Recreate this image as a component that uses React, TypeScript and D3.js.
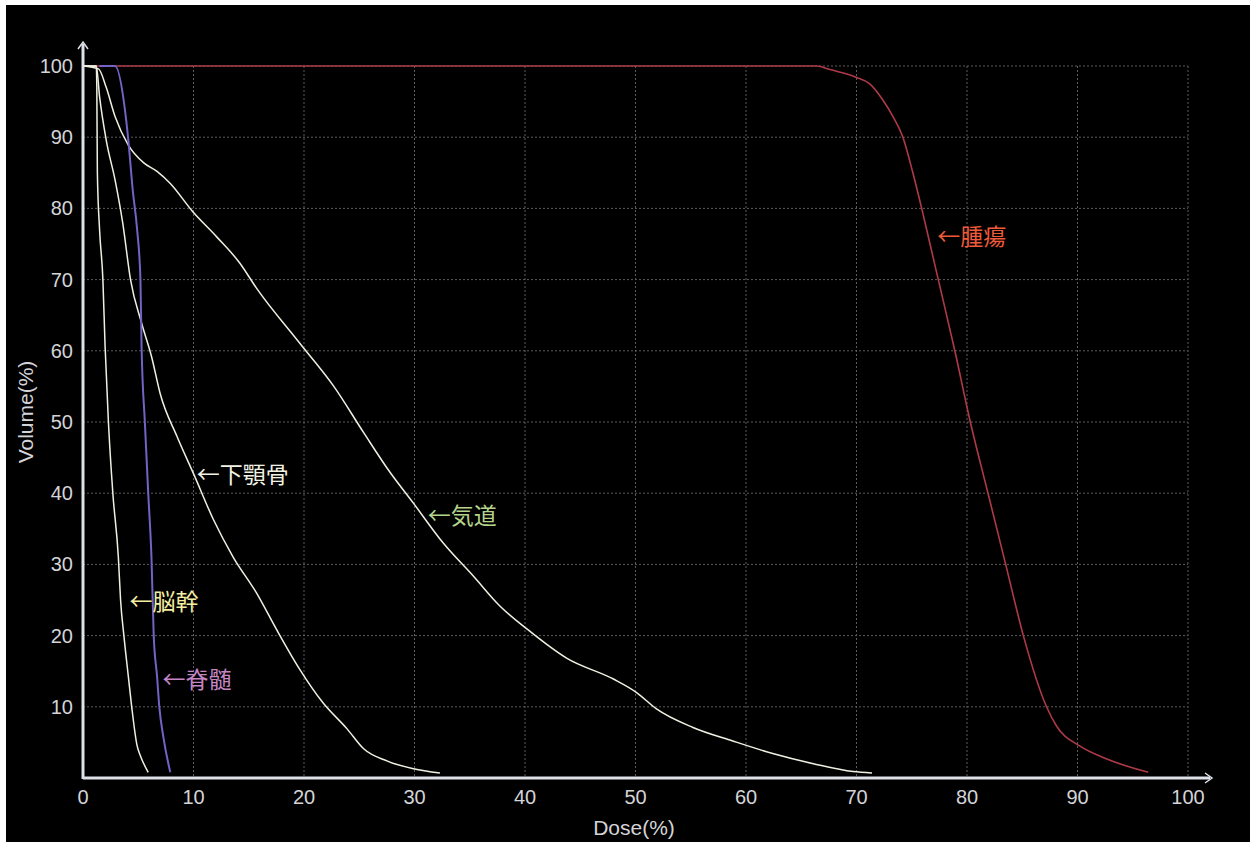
import { useEffect, useRef } from "react";
import * as d3 from "d3";

// dose (%) / volume (%) pairs
const tumorDose = [0, 66.4, 67.6, 70.0, 71.2, 72.4, 73.3, 74.2, 75.1, 75.9, 77.1, 78.9, 80.3, 81.9, 83.5, 85.1, 87.2, 88.1, 90.2, 92.6, 96.4];
const tumorVol = [100, 100, 99.5, 98.4, 97.5, 95.2, 92.9, 90, 85, 80, 72, 60, 50, 40, 30, 20, 10, 7.3, 4.5, 2.7, 0.8];

const airwayDose = [0, 1.4, 2.1, 2.9, 4.1, 5.5, 6.7, 7.9, 9.9, 12.1, 14.2, 15.7, 19.6, 22.7, 25.4, 27.8, 29.9, 32.6, 35.3, 37.7, 40.2, 43.8, 48.0, 50.1, 51.9, 55.2, 58.8, 62.5, 66.1, 69.7, 71.4];
const airwayVol = [100, 99.6, 97, 92.9, 88.9, 86.4, 85.2, 83.5, 79.6, 76, 72.3, 68.8, 61.1, 55, 48.5, 42.9, 38.6, 33, 28.4, 24.2, 20.9, 16.8, 13.9, 12, 9.7, 7.1, 5.2, 3.4, 2.0, 0.9, 0.7];

const mandibleDose = [0, 1.2, 1.5, 2.1, 2.9, 3.6, 4.3, 5.3, 6.2, 7.0, 8.5, 10.1, 11.8, 13.6, 15.7, 17.5, 19.6, 21.7, 23.9, 25.4, 27.5, 29.9, 32.3];
const mandibleVol = [100, 100, 95.7, 89.6, 84, 77.9, 70, 63.9, 59.2, 53.9, 48, 42.4, 36.3, 31, 26, 20.9, 15.3, 10.6, 6.9, 4.1, 2.4, 1.3, 0.7];

const brainstemDose = [0, 1.2, 1.25, 1.3, 1.5, 1.8, 2.0, 2.3, 2.7, 3.2, 3.4, 3.7, 4.1, 4.4, 4.9, 5.2, 5.9];
const brainstemVol = [100, 100, 97, 85, 77, 70, 60.6, 50, 40, 31, 25, 20, 14.3, 10.1, 4.5, 3.1, 0.8];

const cordDose = [1.5, 2.9, 3.8, 4.1, 4.5, 4.9, 5.2, 5.3, 5.6, 5.9, 6.2, 6.4, 6.7, 6.9, 7.3, 7.9];
const cordVol = [100, 100, 93.8, 89.6, 82.6, 77, 70, 60.6, 49.9, 40.1, 30.8, 20, 14.3, 10.1, 5.5, 0.8];

const ticks = [0, 10, 20, 30, 40, 50, 60, 70, 80, 90, 100];
const yTicks = [10, 20, 30, 40, 50, 60, 70, 80, 90, 100];

const labels = [
  { text: "←腫瘍", dose: 77.3, vol: 76, color: "#ee5a3a" },
  { text: "←下顎骨", dose: 10.3, vol: 42.6, color: "#f2f2e4" },
  { text: "←気道", dose: 31.2, vol: 36.8, color: "#b4d48c" },
  { text: "←脳幹", dose: 4.2, vol: 24.8, color: "#f4eea0" },
  { text: "←脊髄", dose: 7.2, vol: 13.8, color: "#c586c6" },
];

const App = () => {
  const svgRef = useRef<SVGSVGElement>(null);

  useEffect(() => {
    const svg = d3.select(svgRef.current);
    svg.selectAll("*").remove();

    const x = d3.scaleLinear().domain([0, 100]).range([83, 1188]);
    const y = d3.scaleLinear().domain([0, 100]).range([778, 66]);

    svg.append("rect").attr("x", 6).attr("y", 5).attr("width", 1244).attr("height", 837).attr("fill", "#000");

    // dotted grid
    const grid = svg.append("g").attr("stroke", "#5c5c5c").attr("stroke-dasharray", "2,2").attr("stroke-width", 1);
    grid.selectAll(".gx")
      .data(ticks.slice(1))
      .enter()
      .append("line")
      .attr("x1", (d) => x(d))
      .attr("x2", (d) => x(d))
      .attr("y1", y(100))
      .attr("y2", y(0));
    grid.selectAll(".gy")
      .data(yTicks)
      .enter()
      .append("line")
      .attr("x1", x(0))
      .attr("x2", x(100))
      .attr("y1", (d) => y(d))
      .attr("y2", (d) => y(d));

    const line = d3
      .line<[number, number]>()
      .x((d) => x(d[0]))
      .y((d) => y(d[1]))
      .curve(d3.curveMonotoneX);

    const series = [
      { dose: tumorDose, vol: tumorVol, color: "#ae3a48", width: 1.6 },
      { dose: airwayDose, vol: airwayVol, color: "#f0f0e2", width: 1.5 },
      { dose: mandibleDose, vol: mandibleVol, color: "#f0f0e2", width: 1.5 },
      { dose: brainstemDose, vol: brainstemVol, color: "#f0f0e2", width: 1.5 },
      { dose: cordDose, vol: cordVol, color: "#7462c4", width: 2 },
    ];
    series.forEach((s) => {
      svg
        .append("path")
        .attr("d", line(s.dose.map((d, i) => [d, s.vol[i]] as [number, number])))
        .attr("fill", "none")
        .attr("stroke", s.color)
        .attr("stroke-width", s.width)
        .attr("stroke-linejoin", "round");
    });

    // axes with arrows
    const axisColor = "#dfe1ea";
    const ax = svg.append("g").attr("stroke", axisColor).attr("stroke-width", 3);
    ax.append("line").attr("x1", x(0)).attr("x2", 1210).attr("y1", y(0)).attr("y2", y(0));
    ax.append("line").attr("x1", x(0)).attr("x2", x(0)).attr("y1", y(0) + 1).attr("y2", 44);
    const arrow = svg.append("g").attr("stroke", axisColor).attr("stroke-width", 1.5).attr("fill", "none");
    arrow.append("path").attr("d", `M1205,${y(0) - 5} L1212,${y(0)} L1205,${y(0) + 5}`);
    arrow.append("path").attr("d", `M${x(0) - 5},49 L${x(0)},42 L${x(0) + 5},49`);

    const tickFont = "20px 'Liberation Sans', Arial, sans-serif";
    svg
      .append("g")
      .selectAll("text")
      .data(ticks)
      .enter()
      .append("text")
      .attr("x", (d) => x(d))
      .attr("y", 804)
      .attr("text-anchor", "middle")
      .attr("fill", "#d4d4d8")
      .style("font", tickFont)
      .text((d) => d);

    svg
      .append("g")
      .selectAll("text")
      .data(yTicks)
      .enter()
      .append("text")
      .attr("x", 73)
      .attr("y", (d) => y(d) + 7)
      .attr("text-anchor", "end")
      .attr("fill", "#d4d4d8")
      .style("font", tickFont)
      .text((d) => d);

    svg
      .append("text")
      .attr("x", 634)
      .attr("y", 835)
      .attr("text-anchor", "middle")
      .attr("fill", "#d4d4d8")
      .style("font", "21px 'Liberation Sans', Arial, sans-serif")
      .text("Dose(%)");

    svg
      .append("text")
      .attr("transform", `translate(33,412) rotate(-90)`)
      .attr("text-anchor", "middle")
      .attr("fill", "#d4d4d8")
      .style("font", "21px 'Liberation Sans', Arial, sans-serif")
      .text("Volume(%)");

    // organ labels
    svg
      .append("g")
      .selectAll("text")
      .data(labels)
      .enter()
      .append("text")
      .attr("x", (d) => x(d.dose))
      .attr("y", (d) => y(d.vol))
      .attr("dy", "0.36em")
      .attr("fill", (d) => d.color)
      .style("font", "23px 'Noto Sans CJK JP', sans-serif")
      .text((d) => d.text);
  }, []);

  return (
    <svg
      ref={svgRef}
      width={1254}
      height={844}
      style={{ position: "absolute", left: 0, top: 0, background: "#fff" }}
    ></svg>
  );
};

export default App;
